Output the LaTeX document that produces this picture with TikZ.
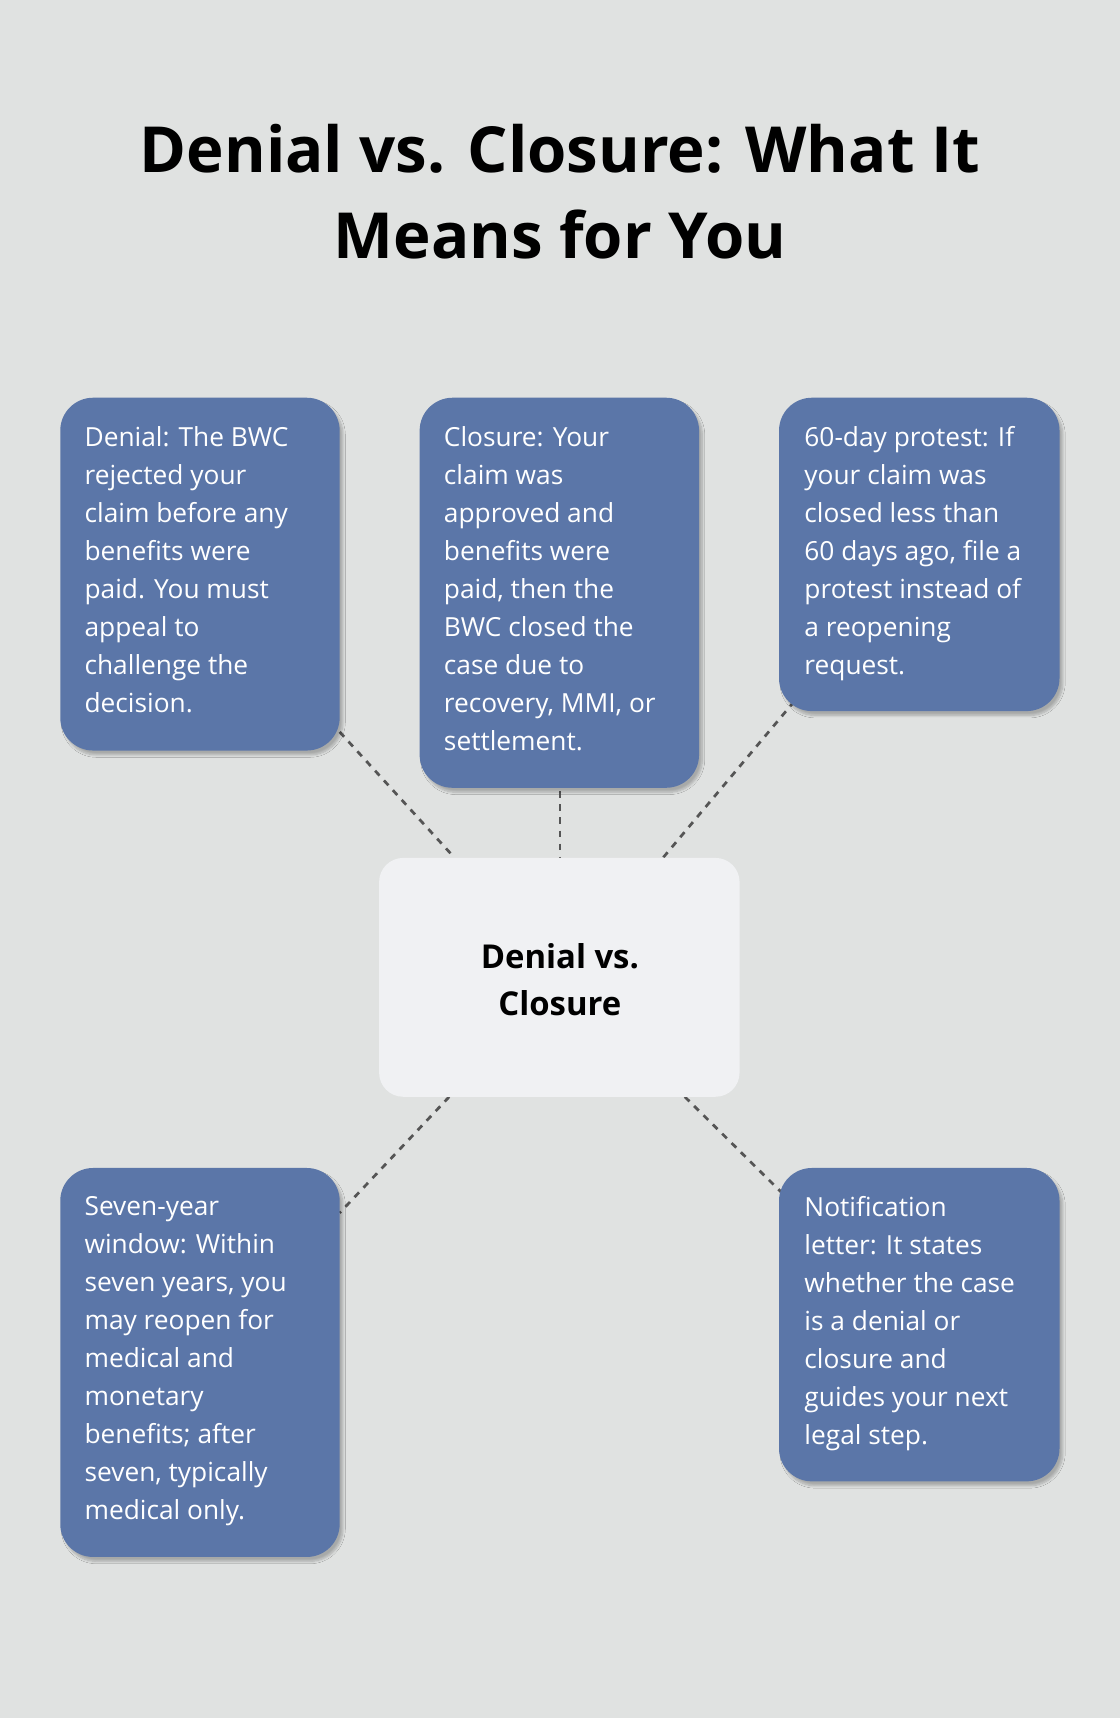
\documentclass[tikz,border=0pt]{standalone}
\usepackage{fontspec}
\setmainfont{Open Sans}
\usetikzlibrary{shadows.blur}
\definecolor{bg}{HTML}{E0E2E1}
\definecolor{boxc}{HTML}{5B76A8}
\definecolor{cen}{HTML}{F0F1F3}
\definecolor{ln}{HTML}{555555}
\begin{document}
\begin{tikzpicture}[x=1pt,y=-1pt,
  card/.style={fill=boxc,rounded corners=30pt,blur shadow={shadow blur steps=8,shadow xshift=3pt,shadow yshift=-4pt,shadow opacity=25}},
  txt/.style={anchor=north west,inner sep=0pt,text=white,align=left,font=\fontsize{24}{34.7}\selectfont},
  conn/.style={draw=ln,line width=2.5pt,dash pattern=on 6pt off 6pt}]
\fill[bg] (0,0) rectangle (1022,1568);
\useasboundingbox (0,0) rectangle (1022,1568);
\node[font=\fontsize{58}{78}\selectfont\bfseries,align=center] (title) at (511,175) {Denial vs. Closure: What It\\Means for You};
% connectors first
\coordinate (c1a) at (310,668); \coordinate (c1b) at (415,783);
\coordinate (c2a) at (511,722); \coordinate (c2b) at (511,783);
\coordinate (c3a) at (725,640); \coordinate (c3b) at (605,783);
\coordinate (c4a) at (410,1001); \coordinate (c4b) at (310,1107);
\coordinate (c5a) at (625,1001); \coordinate (c5b) at (715,1090);
\draw[conn] (c1a)--(c1b); \draw[conn] (c2a)--(c2b); \draw[conn] (c3a)--(c3b);
\draw[conn] (c4a)--(c4b); \draw[conn] (c5a)--(c5b);
\path[card] (55,363) rectangle (310,685);
\path[card] (383,363) rectangle (638,719);
\path[card] (711,363) rectangle (967,649);
\path[card] (55,1066) rectangle (310,1421);
\path[card] (711,1066) rectangle (967,1352);
\path[fill=cen,rounded corners=22pt] (346,783) rectangle (675,1001);
\node[font=\fontsize{30}{43}\selectfont\bfseries,align=center] (center) at (511,894) {Denial vs.\\Closure};
\node[txt] (t1) at (77,389) {Denial: The BWC\\rejected your\\claim before any\\benefits were\\paid. You must\\appeal to\\challenge the\\decision.};
\node[txt] (t2) at (405,389) {Closure: Your\\claim was\\approved and\\benefits were\\paid, then the\\BWC closed the\\case due to\\recovery, MMI, or\\settlement.};
\node[txt] (t3) at (734,389) {60-day protest: If\\your claim was\\closed less than\\60 days ago, file a\\protest instead of\\a reopening\\request.};
\node[txt] (t4) at (77,1092) {Seven-year\\window: Within\\seven years, you\\may reopen for\\medical and\\monetary\\benefits; after\\seven, typically\\medical only.};
\node[txt] (t5) at (734,1092) {Notification\\letter: It states\\whether the case\\is a denial or\\closure and\\guides your next\\legal step.};
\end{tikzpicture}
\end{document}
